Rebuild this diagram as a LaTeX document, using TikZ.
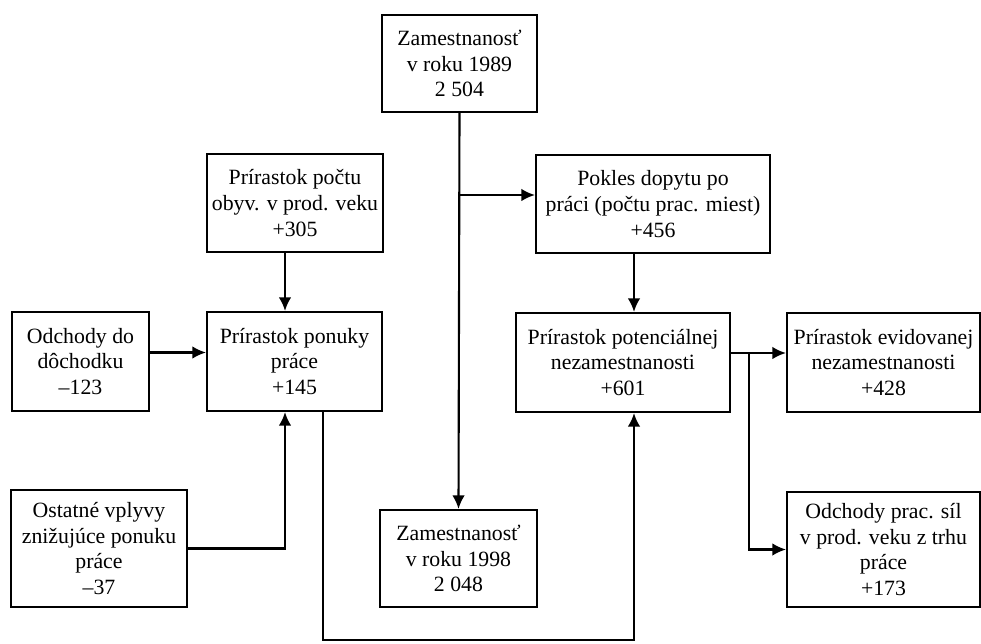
\documentclass[tikz,border=0pt]{standalone}
\usepackage{fontspec}
\setmainfont{Liberation Serif}
\usepackage{tikz}
\usetikzlibrary{arrows.meta}
\tikzset{>={Latex[length=2.7mm, width=2.5mm]}}
\tikzset{
	box/.style={draw, line width=1.2pt, align=center, inner sep=0pt,
		font=\fontsize{12.4}{14.6}\selectfont},
	link/.style={line width=1.2pt}
}

\begin{document}
\begin{tikzpicture}
    \useasboundingbox (0, 0) rectangle (19.62, -12.88);
    \node[box, minimum width=3.1cm, minimum height=1.94cm](z89) at (9.19, -1.27){Zamestnanosť\\v roku 1989\\2 504};
    \node[box, minimum width=3.52cm, minimum height=1.96cm](obyv) at (5.9, -4.06){Prírastok počtu\\obyv. v prod. veku\\+305};
    \node[box, minimum width=4.68cm, minimum height=1.96cm](dopyt) at (13.06, -4.08){Pokles dopytu po\\práci (počtu prac. miest)\\+456};
    \node[box, minimum width=2.74cm, minimum height=1.98cm](duchod) at (1.61, -7.23){Odchody do\\dôchodku\\--123};
    \node[box, minimum width=3.5cm, minimum height=1.98cm](ponuka) at (5.89, -7.23){Prírastok ponuky\\práce\\+145};
    \node[box, minimum width=4.28cm, minimum height=1.98cm](potenc) at (12.46, -7.25){Prírastok potenciálnej\\nezamestnanosti\\+601};
    \node[box, minimum width=3.86cm, minimum height=1.98cm](evid) at (17.67, -7.25){Prírastok evidovanej\\nezamestnanosti\\+428};
    \node[box, minimum width=3.52cm, minimum height=2.34cm](ostat) at (1.98, -10.97){Ostatné vplyvy\\znižujúce ponuku\\práce\\--37};
    \node[box, minimum width=3.14cm, minimum height=1.94cm](z98) at (9.17, -11.17){Zamestnanosť\\v roku 1998\\2 048};
    \node[box, minimum width=3.86cm, minimum height=2.3cm](odchod) at (17.67, -10.99){Odchody prac. síl\\v prod. veku z trhu\\práce\\+173};
    \coordinate (bot) at (0, -12.8);
    \coordinate (dIn) at ([yshift=.18cm]dopyt.west);
    \coordinate (oIn) at ([xshift=-.19cm]ponuka.north);
    \coordinate (sIn) at ([xshift=-.19cm]ponuka.south);
    \coordinate (pOut) at ([xshift=.57cm]ponuka.south);
    \coordinate (tTop) at ([xshift=.22cm]potenc.north);
    \coordinate (tIn) at ([xshift=.22cm]potenc.south);
    \coordinate (tOut) at ([yshift=.19cm]potenc.east);
    \coordinate (split) at ([xshift=.36cm]tOut);
    \draw[link, ->](z89.south)--(z98.north);
    \draw[link, ->](z89.south |- dIn)--(dIn);
    \draw[link, ->](obyv.south -| oIn)--(oIn);
    \draw[link, ->]([yshift=.18cm]duchod.east)--([yshift=.18cm]ponuka.west);
    \draw[link, ->](ostat.east)-|(sIn);
    \draw[link, ->](dopyt.south -| tTop)--(tTop);
    \draw[link, ->](pOut)--(pOut |- bot)--(tIn |- bot)--(tIn);
    \draw[link, ->](tOut)--(tOut -| evid.west);
    \draw[link, ->](split)|-(odchod.west);
\end{tikzpicture}
\end{document}
